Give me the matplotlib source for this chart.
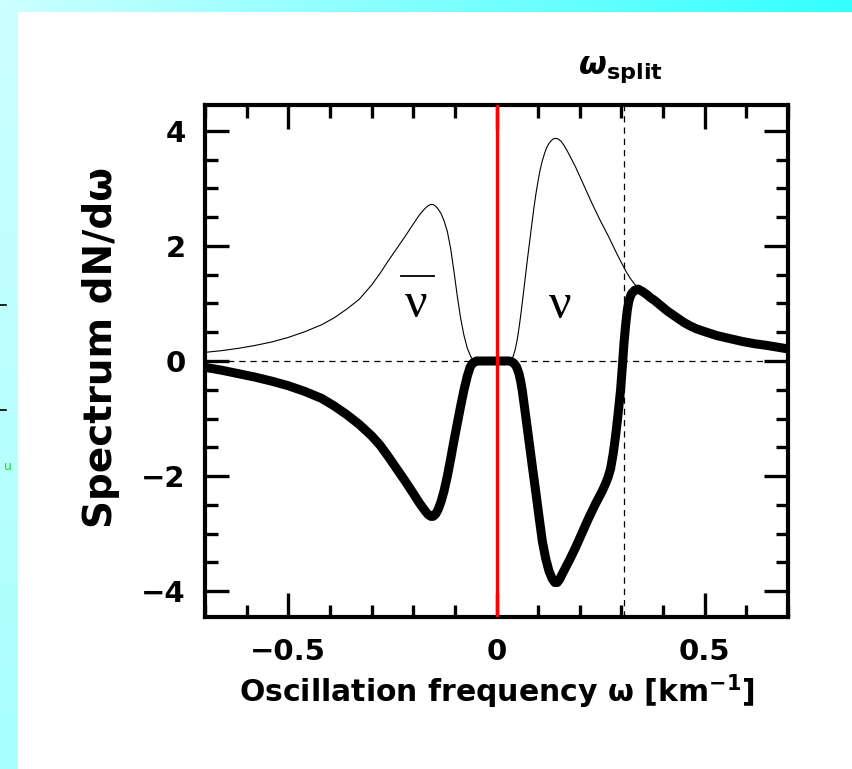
import numpy as np
import matplotlib.pyplot as plt
from matplotlib.ticker import MultipleLocator

# spectrum before the swap (thin curve): omega in km^-1, dN/domega
w_thin = [-0.70, -0.66, -0.62, -0.58, -0.54, -0.50, -0.46, -0.42, -0.39, -0.36,
          -0.33, -0.30, -0.28, -0.26, -0.24, -0.22, -0.20, -0.185, -0.172, -0.164,
          -0.158, -0.152, -0.146, -0.140, -0.133, -0.126, -0.118, -0.110, -0.102,
          -0.094, -0.086, -0.078, -0.070, -0.062, -0.055, 0.034, 0.040, 0.045,
          0.050, 0.055, 0.060, 0.065, 0.070, 0.075, 0.080, 0.085, 0.090, 0.095,
          0.100, 0.105, 0.110, 0.115, 0.120, 0.125, 0.130, 0.136, 0.142, 0.148,
          0.155, 0.162, 0.170, 0.180, 0.190, 0.200, 0.210, 0.220, 0.230, 0.240,
          0.250, 0.260, 0.270, 0.280, 0.290, 0.300, 0.310, 0.320, 0.330, 0.340,
          0.350, 0.360, 0.370, 0.380, 0.390, 0.400, 0.410, 0.420, 0.430, 0.440,
          0.450, 0.465, 0.480, 0.500, 0.530, 0.560, 0.590, 0.620, 0.650, 0.675,
          0.700]
dn_thin = [0.15, 0.18, 0.22, 0.27, 0.33, 0.41, 0.51, 0.63, 0.75, 0.90,
           1.07, 1.32, 1.52, 1.74, 1.95, 2.16, 2.38, 2.54, 2.65, 2.70,
           2.72, 2.72, 2.69, 2.64, 2.56, 2.44, 2.25, 1.95, 1.55,
           1.12, 0.74, 0.44, 0.22, 0.08, 0.0, 0.0, 0.08, 0.20,
           0.38, 0.62, 0.90, 1.20, 1.51, 1.81, 2.10, 2.39, 2.67, 2.92,
           3.14, 3.33, 3.48, 3.60, 3.70, 3.77, 3.82, 3.86, 3.87, 3.86,
           3.82, 3.75, 3.65, 3.51, 3.37, 3.21, 3.05, 2.89, 2.73, 2.58,
           2.43, 2.29, 2.15, 2.00, 1.85, 1.71, 1.57, 1.45, 1.35, 1.27,
           1.21, 1.16, 1.10, 1.05, 0.99, 0.93, 0.87, 0.82, 0.77, 0.72,
           0.67, 0.61, 0.56, 0.51, 0.44, 0.39, 0.34, 0.30, 0.27, 0.24,
           0.21]

# spectrum after the swap (thick curve)
w_thick = [-0.70, -0.66, -0.62, -0.58, -0.54, -0.50, -0.46, -0.42, -0.39, -0.36,
           -0.33, -0.30, -0.28, -0.26, -0.24, -0.22, -0.20, -0.185, -0.172, -0.164,
           -0.158, -0.152, -0.146, -0.140, -0.133, -0.126, -0.118, -0.110, -0.102,
           -0.094, -0.086, -0.078, -0.070, -0.063, -0.056, -0.048, 0.030, 0.036,
           0.042, 0.048, 0.054, 0.058, 0.062, 0.070, 0.078, 0.086, 0.094, 0.102,
           0.110, 0.118, 0.126, 0.134, 0.140, 0.146, 0.152, 0.158, 0.166, 0.178,
           0.190, 0.206, 0.222, 0.238, 0.254, 0.262, 0.268, 0.274, 0.280, 0.286,
           0.292, 0.298, 0.302, 0.306, 0.310, 0.314, 0.318, 0.324, 0.332, 0.340,
           0.350, 0.360, 0.370, 0.380, 0.390, 0.400, 0.410, 0.420, 0.430, 0.440,
           0.450, 0.465, 0.480, 0.500, 0.530, 0.560, 0.590, 0.620, 0.650, 0.675,
           0.700]
dn_thick = [-0.11, -0.16, -0.22, -0.28, -0.35, -0.43, -0.53, -0.65, -0.78, -0.93,
            -1.10, -1.30, -1.46, -1.66, -1.87, -2.08, -2.30, -2.47, -2.60, -2.67,
            -2.70, -2.70, -2.66, -2.58, -2.44, -2.26, -2.00, -1.70, -1.38,
            -1.08, -0.78, -0.50, -0.26, -0.10, -0.03, 0.0, 0.0, -0.01,
            -0.04, -0.10, -0.22, -0.35, -0.52, -0.95, -1.39, -1.83, -2.26, -2.70,
            -3.13, -3.43, -3.65, -3.79, -3.85, -3.85, -3.79, -3.70, -3.59, -3.42,
            -3.24, -2.98, -2.72, -2.48, -2.26, -2.13, -2.02, -1.87, -1.62, -1.30,
            -0.92, -0.50, -0.12, 0.30, 0.62, 0.88, 1.05, 1.17, 1.23, 1.25,
            1.21, 1.16, 1.10, 1.05, 0.99, 0.93, 0.87, 0.82, 0.77, 0.72,
            0.67, 0.61, 0.56, 0.51, 0.44, 0.39, 0.34, 0.30, 0.27, 0.24,
            0.21]

w_split = 0.307

plt.rcParams['font.family'] = 'DejaVu Sans'
plt.rcParams['font.weight'] = 'bold'
plt.rcParams['axes.labelweight'] = 'bold'
plt.rcParams['mathtext.fontset'] = 'dejavusans'
plt.rcParams['mathtext.default'] = 'bf'

fig = plt.figure(figsize=(8.52, 7.69), dpi=100)

# slide background: cyan bands along the top and left edges
bg = fig.add_axes([0, 0, 1, 1], zorder=-5)
t = np.linspace(0, 1, 256)
top_band = np.stack([0.80 - 0.60 * t, np.ones_like(t), np.ones_like(t)], axis=-1)[None, :, :]
bg.imshow(top_band, extent=(0, 852, 12, 0), aspect='auto')
left_band = np.stack([0.80 - 0.14 * t, np.ones_like(t), np.ones_like(t)], axis=-1)[:, None, :]
bg.imshow(left_band, extent=(0, 18, 769, 12), aspect='auto')
bg.plot([0, 6], [305, 305], color='k', lw=1.2)
bg.plot([0, 6], [410, 410], color='k', lw=1.2)
bg.text(4, 467, 'u', color='#22dd22', fontsize=9, va='center', weight='normal')
bg.set_xlim(0, 852)
bg.set_ylim(769, 0)
bg.axis('off')

ax = fig.add_axes([205 / 852, 152 / 769, 583 / 852, 512 / 769])
ax.axhline(0, color='k', lw=0.9, ls=(0, (5, 4)), zorder=1)
ax.axvline(w_split, color='k', lw=0.9, ls=(0, (5, 4)), zorder=1)
ax.plot(w_thin, dn_thin, color='k', lw=0.8, zorder=2)
ax.plot(w_thick, dn_thick, color='k', lw=6.5, solid_capstyle='round',
        solid_joinstyle='round', zorder=3)
ax.axvline(0, color='red', lw=2.4, zorder=4)

ax.set_xlim(-0.7, 0.7)
ax.set_ylim(-4.45, 4.45)
ax.xaxis.set_major_locator(MultipleLocator(0.5))
ax.xaxis.set_minor_locator(MultipleLocator(0.1))
ax.yaxis.set_major_locator(MultipleLocator(2))
ax.yaxis.set_minor_locator(MultipleLocator(0.5))
ax.xaxis.set_major_formatter(lambda v, p: f'{v:g}'.replace('-', '\u2212'))
ax.tick_params(which='both', direction='in', top=True, right=True, width=2.4, colors='k')
ax.tick_params(which='major', length=17, labelsize=21)
ax.tick_params(which='minor', length=9)
ax.tick_params(axis='x', which='major', pad=15)
ax.tick_params(axis='y', which='major', pad=14)
for s in ax.spines.values():
    s.set_linewidth(3)

ax.set_xlabel('Oscillation frequency ω [km$^{-1}$]', fontsize=21.5)
ax.xaxis.set_label_coords(0.501, -0.108)
ax.set_ylabel('Spectrum dN/dω', fontsize=28)
ax.yaxis.set_label_coords(-0.145, 0.527)

# labels on the two spectral lobes
ax.text(-0.192, 0.97, 'ν', family='Liberation Serif', weight='normal', fontsize=36,
        ha='center', va='center')
ax.plot([-0.230, -0.151], [1.48, 1.48], color='k', lw=1.3)
ax.text(0.154, 0.96, 'ν', family='Liberation Serif', weight='normal', fontsize=36,
        ha='center', va='center')

ax.text(w_split - 0.01, 1.07, r'$\boldsymbol{\omega}_{\mathbf{split}}$',
        transform=ax.get_xaxis_transform(), fontsize=23, ha='center', va='center')

fig.savefig('out.png', dpi=100)
